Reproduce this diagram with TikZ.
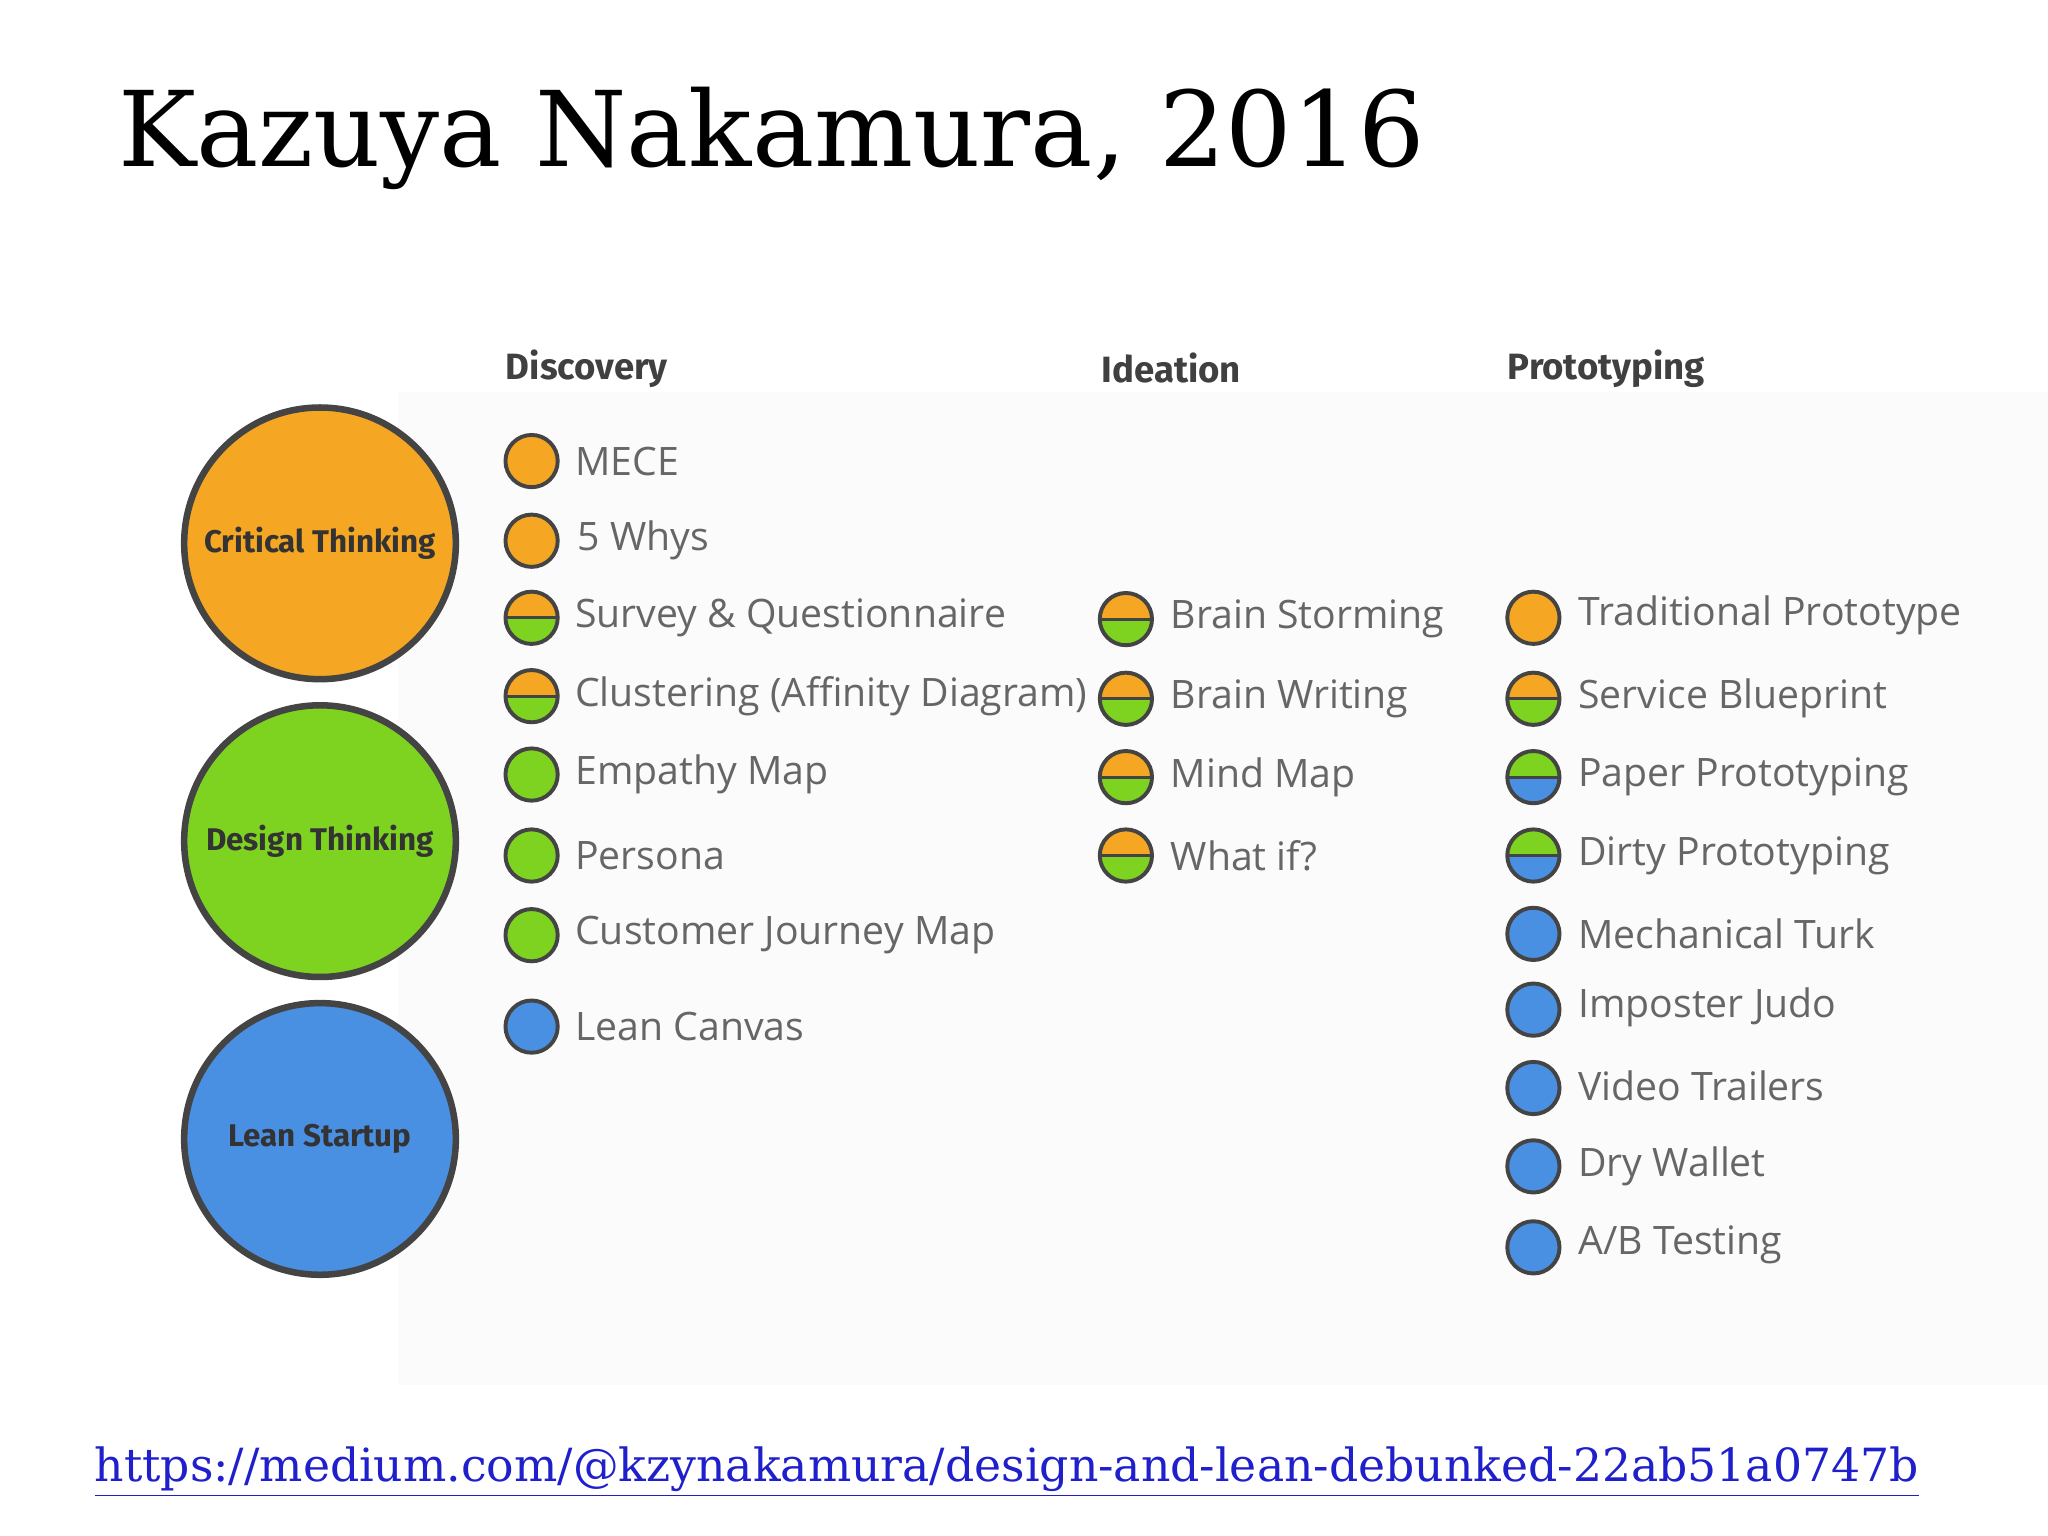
\documentclass[tikz,border=0pt]{standalone}
\usepackage{fontspec}
\setmainfont{DejaVu Serif}
\newfontfamily\itemfont{Open Sans}
\newfontfamily\headfont{Fira Sans}
\definecolor{cor}{HTML}{F5A623}
\definecolor{cgr}{HTML}{7ED321}
\definecolor{cbl}{HTML}{4A90E2}
\definecolor{cbd}{HTML}{444444}
\definecolor{ctx}{HTML}{666666}
\definecolor{curl}{HTML}{1F1FCC}
\begin{document}
\begin{tikzpicture}[x=0.5pt,y=-0.5pt,
  big/.style={circle,draw=cbd,line width=2.5pt,minimum size=104pt,inner sep=0pt,font=\headfont\bfseries\fontsize{12}{12}\selectfont,text=black!80},
  dot/.style={circle,draw=cbd,line width=1.5pt,minimum size=20pt,inner sep=0pt},
  o/.style={dot,fill=cor},
  g/.style={dot,fill=cgr},
  b/.style={dot,fill=cbl},
  half/.style 2 args={dot,path picture={
    \fill[#1] (path picture bounding box.north west) rectangle (path picture bounding box.east);
    \fill[#2] (path picture bounding box.west) rectangle (path picture bounding box.south east);
    \draw[cbd,line width=1.2pt] (path picture bounding box.west) -- (path picture bounding box.east);}},
  item/.style={anchor=west,font=\itemfont\fontsize{15}{15}\selectfont,text=ctx,inner sep=0pt},
  head/.style={anchor=west,font=\headfont\bfseries\fontsize{14}{14}\selectfont,text=black!75,inner sep=0pt}]
\useasboundingbox (0,0) rectangle (1568,1176);
\fill[black!1.5] (305,300) rectangle (1568,1060);
\node[anchor=west,inner sep=0pt,font=\fontsize{40}{40}\selectfont] (title) at (90,106) {Kazuya Nakamura, 2016};
\node[big,fill=cor] (ct) at (245,416) {Critical Thinking};
\node[big,fill=cgr] (dt) at (245,644) {Design Thinking};
\node[big,fill=cbl] (ls) at (245,872) {Lean Startup};
\node[head] (h1) at (387,282) {Discovery};
\node[head] (h2) at (843,282) {Ideation};
\node[head] (h3) at (1154,282) {Prototyping};
% Discovery
\node[o] (d1) at (407,353) {}; \node[item] (dt1) at (440,353) {MECE};
\node[o] (d2) at (407,414) {}; \node[item] (dt2) at (442,414) {5 Whys};
\node[half={cor}{cgr}] (d3) at (407,473) {}; \node[item] (dt3) at (440,473) {Survey \& Questionnaire};
\node[half={cor}{cgr}] (d4) at (407,533) {}; \node[item] (dt4) at (440,533) {Clustering (Affinity Diagram)};
\node[g] (d5) at (407,593) {}; \node[item] (dt5) at (440,593) {Empathy Map};
\node[g] (d6) at (407,655) {}; \node[item] (dt6) at (440,655) {Persona};
\node[g] (d7) at (407,716) {}; \node[item] (dt7) at (440,716) {Customer Journey Map};
\node[b] (d8) at (407,786) {}; \node[item] (dt8) at (440,786) {Lean Canvas};
% Ideation
\node[half={cor}{cgr}] (i1) at (862,474) {}; \node[item] (it1) at (896,474) {Brain Storming};
\node[half={cor}{cgr}] (i2) at (862,535) {}; \node[item] (it2) at (896,535) {Brain Writing};
\node[half={cor}{cgr}] (i3) at (862,595) {}; \node[item] (it3) at (896,595) {Mind Map};
\node[half={cor}{cgr}] (i4) at (862,655) {}; \node[item] (it4) at (896,655) {What if?};
% Prototyping
\node[o] (p1) at (1174,473) {}; \node[item] (pt1) at (1208,471) {Traditional Prototype};
\node[half={cor}{cgr}] (p2) at (1174,535) {}; \node[item] (pt2) at (1208,535) {Service Blueprint};
\node[half={cgr}{cbl}] (p3) at (1174,595) {}; \node[item] (pt3) at (1208,595) {Paper Prototyping};
\node[half={cgr}{cbl}] (p4) at (1174,655) {}; \node[item] (pt4) at (1208,655) {Dirty Prototyping};
\node[b] (p5) at (1174,715) {}; \node[item] (pt5) at (1208,715) {Mechanical Turk};
\node[b] (p6) at (1174,773) {}; \node[item] (pt6) at (1208,771) {Imposter Judo};
\node[b] (p7) at (1174,833) {}; \node[item] (pt7) at (1208,831) {Video Trailers};
\node[b] (p8) at (1174,893) {}; \node[item] (pt8) at (1208,893) {Dry Wallet};
\node[b] (p9) at (1174,955) {}; \node[item] (pt9) at (1208,953) {A/B Testing};
\node[anchor=west,inner sep=0pt,text=curl,font=\fontsize{17.5}{17.5}\selectfont] (url) at (72,1127) {\underline{https://medium.com/@kzynakamura/design-and-lean-debunked-22ab51a0747b}};
\end{tikzpicture}
\end{document}
